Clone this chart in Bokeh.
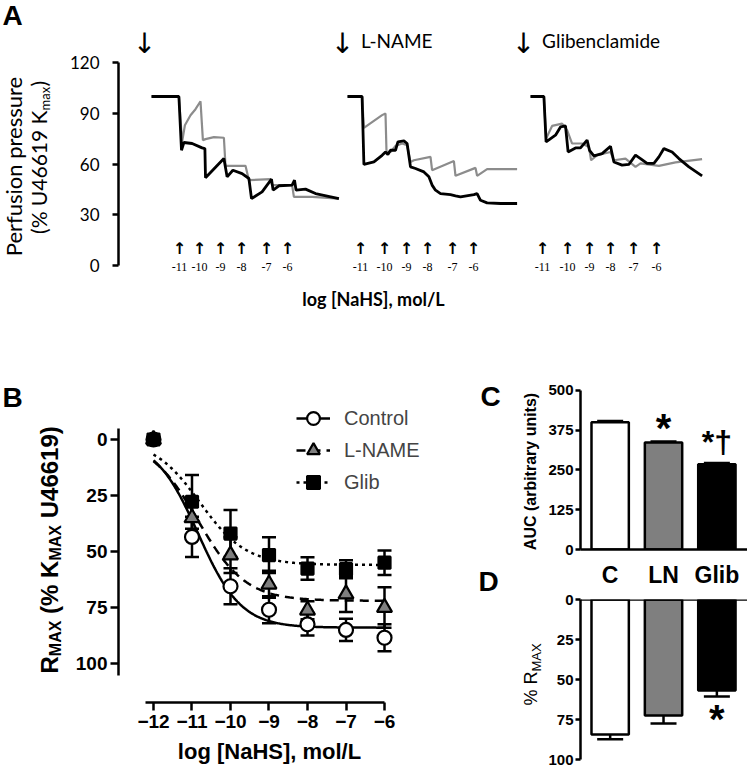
import numpy as np
from bokeh.plotting import figure
from bokeh.models import Range1d, Legend, LegendItem, FixedTicker, Span
from bokeh.layouts import row, column
from bokeh.embed import file_html
from bokeh.resources import INLINE
from bokeh.core.properties import value

# ---------------- Panel A: perfusion-pressure traces (time in min, % U46619 Kmax) ----------------
ctrl_black_t = [0, 13.7, 15, 16.2, 20.3, 25.3, 26.7, 27, 36.2, 37.8, 40.7, 45.3, 48.7, 50, 55.3, 60, 60.8, 63.7, 70.3, 71.5, 72.3, 77, 82, 93.7]
ctrl_black_v = [100, 100, 68.2, 72.8, 72.2, 69.6, 69.2, 51.9, 63.3, 52.5, 56.4, 54.4, 51.5, 39.6, 43.6, 51.1, 44.6, 47.2, 47.6, 50.5, 44.6, 45.2, 42.6, 39.6]
ctrl_gray_t = [0, 13.7, 15.3, 16.7, 19.5, 22, 24.5, 25.7, 27, 31.2, 36.2, 37, 47, 48.7, 59.5, 60.3, 70.3, 71.2, 80.3, 93.7]
ctrl_gray_v = [100, 100, 73.2, 83.0, 88.9, 92.5, 97.2, 74.2, 74.8, 76.0, 75.6, 59.0, 59.0, 50.5, 51.1, 47.6, 47.6, 40.6, 40.6, 39.6]

lname_black_t = [0, 7.3, 8.2, 13.2, 17.3, 19, 20.2, 21.5, 24, 25.2, 28.2, 29.8, 31.5, 34, 38.2, 40.7, 42.3, 44, 46.5, 51.5, 54, 56.5, 63.2, 64.8, 66.5, 69.8, 76.5, 84.8]
lname_black_v = [100, 100, 59.8, 61.3, 65.2, 67.2, 65.7, 68.2, 68.2, 73.2, 73.8, 72.2, 58.4, 57.4, 55.4, 52.5, 47.6, 44.6, 42.6, 42.0, 41.2, 40.6, 42.0, 42.6, 38.6, 37.1, 36.7, 36.7]
lname_gray_t = [0, 7.3, 8.2, 17.3, 19, 19.5, 21.5, 24, 27.3, 29.8, 31.5, 33.2, 41.5, 42.3, 53.2, 54, 64, 64.8, 69.8, 84.8]
lname_gray_v = [100, 100, 81.5, 89.0, 90.0, 67.2, 67.2, 70.8, 72.2, 71.2, 61.3, 62.3, 64.3, 56.4, 61.8, 53.1, 57.8, 53.1, 57.0, 57.0]

glib_black_t = [0, 6.7, 7.8, 12.5, 15, 17.5, 18.8, 22.5, 25, 28.3, 29.5, 31.7, 35.8, 40, 41.7, 45.8, 49.2, 52.5, 55, 58.3, 61.7, 64.2, 66.7, 70.8, 74.2, 79.2, 85.8]
glib_black_v = [100, 100, 73.2, 77.1, 82.0, 82.6, 67.2, 69.6, 69.6, 74.2, 68.2, 64.9, 66.2, 70.6, 61.3, 59.4, 59.8, 65.3, 63.3, 60.4, 60.4, 64.3, 69.2, 67.2, 63.3, 58.4, 53.1]
glib_gray_t = [0, 6.7, 7.8, 10.8, 15.8, 18.3, 20.8, 25.8, 29.2, 30.3, 33.3, 40, 41.7, 47.5, 52.5, 55, 64.2, 72.5, 85.8]
glib_gray_v = [100, 100, 75.2, 82.6, 84.0, 80.1, 72.2, 72.2, 70.2, 62.3, 65.3, 67.2, 62.3, 63.3, 58.4, 60.4, 59.0, 61.0, 63.0]

# NaHS addition times (min, within each protocol) and concentration labels
ctrl_add_t = [14, 24, 34.5, 45, 57.5, 68]
lname_add_t = [6.5, 18.5, 29.5, 40, 52.5, 63]
glib_add_t = [6, 18.5, 29.5, 40, 51.5, 63]
add_labels = ["-11", "-10", "-9", "-8", "-7", "-6"]
pretreat_t = [-3.5, -2.5, -3.5]
pretreat_names = ["", "L-NAME", "Glibenclamide"]
a_yticks = [0, 30, 60, 90, 120]
# horizontal placement of the three protocols on the shared time axis (layout)
protocol_start = [0, 98, 189.5]

# ---------------- Panel B: concentration-response (mean, SEM) ----------------
log_conc = [-12, -11, -10, -9, -8, -7, -6]
ctrl_mean = [0, 43.5, 65.5, 76, 82.5, 85, 88.5]
ctrl_sem = [0, 9, 8, 6, 5, 5, 6]
lname_mean = [0, 35, 51.6, 64.6, 76.2, 69, 75]
lname_sem = [0, 9, 8, 6, 4, 8, 9]
glib_mean = [0, 27.8, 42, 51.6, 57.6, 57.9, 55]
glib_sem = [0, 12, 10.5, 8, 5, 4, 5.5]
# sigmoidal fit parameters: [bottom plateau, logEC50, Hill slope]
ctrl_fit = [84, -10.84, 0.78]
lname_fit = [72, -10.85, 0.70]
glib_fit = [56, -10.80, 0.72]
b_yticks = [0, 25, 50, 75, 100]

# ---------------- Panels C & D ----------------
groups = ["C", "LN", "Glib"]
auc_mean = [400, 336, 268]
auc_sem = [4, 3, 4]
rmax_mean = [84.4, 72.5, 56.9]
rmax_sem = [3.0, 5.0, 3.7]
bar_colors = ["white", "#7f7f7f", "black"]
c_yticks = [0, 125, 250, 375, 500]
d_yticks = [0, 25, 50, 75, 100]

ARIAL = "Liberation Sans"
CAL = "Lato"
UP = np.pi / 2


def base_fig(w, h, xr, yr, ml=0, mr=0, mt=0, mb=0, xloc=None, yloc=None):
    p = figure(width=w, height=h, x_range=xr, y_range=yr, output_backend="svg",
               toolbar_location=None, min_border_left=ml, min_border_right=mr,
               min_border_top=mt, min_border_bottom=mb,
               x_axis_location=xloc, y_axis_location=yloc)
    if "frame_align" in p.properties():
        p.frame_align = False
    for g in p.grid:
        g.visible = False
    p.outline_line_color = None
    p.border_fill_color = "white"
    p.background_fill_color = "white"
    return p


def style_axis(ax, font, size, bold, standoff, tick_out, lw=2.5):
    ax.axis_line_width = lw
    ax.axis_line_color = "black"
    ax.major_tick_line_width = lw
    ax.major_tick_line_color = "black"
    ax.major_tick_out = tick_out
    ax.major_tick_in = 0
    ax.minor_tick_line_color = None
    ax.major_label_text_font = font
    ax.major_label_text_font_size = f"{size}px"
    ax.major_label_text_font_style = "bold" if bold else "normal"
    ax.major_label_text_color = "black"
    ax.major_label_standoff = standoff


def txt(p, x, y, s, font, size, style="normal", align="left", baseline="middle", angle=0.0):
    p.text(x=[x], y=[y], text=[s], text_font=value(font), text_font_size=f"{size}px",
           text_font_style=style, text_align=align, text_baseline=baseline, angle=angle,
           text_color="black")


# ================= Panel A =================
YA = Range1d(-32.5, 156.8)
pA0 = base_fig(58, 320, Range1d(0, 58), Range1d(320, 0))       # title strip (pixel coordinates)
pA = base_fig(689, 320, Range1d(-16.5, 298), YA, ml=60, yloc="left")

style_axis(pA.yaxis[0], CAL, 17, False, 13, 6)
pA.yaxis.bounds = (0, 120)
pA.yaxis.ticker = FixedTicker(ticks=a_yticks)

protocols = [(ctrl_gray_t, ctrl_gray_v, ctrl_black_t, ctrl_black_v, ctrl_add_t),
             (lname_gray_t, lname_gray_v, lname_black_t, lname_black_v, lname_add_t),
             (glib_gray_t, glib_gray_v, glib_black_t, glib_black_v, glib_add_t)]
for i, (gt, gv, bt, bv, at) in enumerate(protocols):
    s0 = protocol_start[i]
    pA.line([s0 + t for t in gt], gv, line_color="#8c8c8c", line_width=2.2)
    pA.line([s0 + t for t in bt], bv, line_color="black", line_width=2.8)
    ax = [s0 + t for t in at]
    n = len(ax)
    pA.text(x=ax, y=[10] * n, text=["↑"] * n, text_font=value("DejaVu Sans"),
            text_font_size="16px", text_font_style="bold", text_align="center",
            text_baseline="middle", text_color="black")
    pA.text(x=ax, y=[-0.6] * n, text=add_labels, text_font=value("Liberation Serif"),
            text_font_size="12px", text_align="center", text_baseline="middle", text_color="black")
    txt(pA, s0 + pretreat_t[i], 131.4, "↓", "DejaVu Sans", 28, align="center")
    if pretreat_names[i]:
        txt(pA, s0 + pretreat_t[i] + 9.3, 133.1, pretreat_names[i], CAL, 19)

txt(pA, 111, -19.5, "log [NaHS], mol/L", CAL, 18, "bold", align="center")

txt(pA0, 2, 15, "A", ARIAL, 28, "bold")
txt(pA0, 13, 166, "Perfusion pressure", CAL, 22, align="center", angle=UP)
txt(pA0, 38, 110, "(% U46619 K", CAL, 21, align="right", angle=UP)
txt(pA0, 44, 110, "max", CAL, 13, angle=UP)
txt(pA0, 38, 86, ")", CAL, 21, angle=UP)

# ================= Panel B =================
pB0 = base_fig(70, 451, Range1d(0, 70), Range1d(771, 320))      # title strip (pixel coordinates)
pB = base_fig(408, 451, Range1d(-12.909, -5.065), Range1d(117.4, -17.4),
              ml=48, mr=58, mt=80, mb=69, xloc="below", yloc="left")
style_axis(pB.xaxis[0], ARIAL, 19, True, 4, 8)
style_axis(pB.yaxis[0], ARIAL, 19, True, 3, 8)
pB.xaxis.bounds = (-12.2, -6)
pB.xaxis.ticker = FixedTicker(ticks=log_conc)
pB.yaxis.bounds = (-4.9, 105.4)
pB.yaxis.ticker = FixedTicker(ticks=b_yticks)
pB.xaxis.axis_label = "log [NaHS], mol/L"
pB.xaxis.axis_label_text_font = ARIAL
pB.xaxis.axis_label_text_font_size = "22px"
pB.xaxis.axis_label_text_font_style = "bold"
pB.xaxis.axis_label_text_color = "black"
pB.xaxis.axis_label_standoff = 8

xs = np.linspace(-12, -6, 241)
series = [("Control", ctrl_mean, ctrl_sem, ctrl_fit, "solid", "circle", "white", 14),
          ("L-NAME", lname_mean, lname_sem, lname_fit, "9 6", "triangle", "#7f7f7f", 15),
          ("Glib", glib_mean, glib_sem, glib_fit, "3 4", "square", "black", 12)]
curve_r = []
for name, m, s, fit, dash, mk, fc, sz in series:
    bottom, ec, hill = fit
    ys = bottom / (1 + 10 ** ((ec - xs) * hill))
    curve_r.append(pB.line(xs, ys, line_color="black", line_width=2.5, line_dash=dash))
for name, m, s, fit, dash, mk, fc, sz in series:
    lo = [a - b for a, b in zip(m, s)]
    hi = [a + b for a, b in zip(m, s)]
    pB.segment(x0=log_conc, y0=lo, x1=log_conc, y1=hi, line_color="black", line_width=2.5)
    pB.scatter(x=log_conc + log_conc, y=lo + hi, marker="dash", size=14, line_color="black", line_width=2.5)
mark_r = []
for name, m, s, fit, dash, mk, fc, sz in series:
    mark_r.append(pB.scatter(x=log_conc, y=m, marker=mk, size=sz, fill_color=fc,
                             line_color="black", line_width=2.2))

legend = Legend(items=[LegendItem(label=series[i][0], renderers=[curve_r[i], mark_r[i]]) for i in range(3)],
                location=(178, 204), border_line_color=None, background_fill_alpha=0,
                label_text_font=ARIAL, label_text_font_size="20px", glyph_width=34,
                glyph_height=32, label_height=32, spacing=0, padding=0, margin=0, label_standoff=14)
pB.add_layout(legend)

txt(pB0, 2, 397, "B", ARIAL, 28, "bold")
# y title: R_MAX (% K_MAX U46619), written bottom-to-top
txt(pB0, 48.7, 673, "R", ARIAL, 24, "bold", angle=UP)
txt(pB0, 54.5, 655.7, "MAX", ARIAL, 16, "bold", angle=UP)
txt(pB0, 48.7, 613.4, "(% K", ARIAL, 24, "bold", angle=UP)
txt(pB0, 54.5, 560.1, "MAX", ARIAL, 16, "bold", angle=UP)
txt(pB0, 48.7, 517.8, "U46619)", ARIAL, 24, "bold", angle=UP)

# ================= Panels C and D =================
pCD0 = base_fig(67, 451, Range1d(478, 545), Range1d(771, 320))   # title strip (pixel coordinates)
txt(pCD0, 480, 396, "C", ARIAL, 28, "bold")
txt(pCD0, 478, 581, "D", ARIAL, 28, "bold")
txt(pCD0, 530, 471, "AUC (arbitrary units)", ARIAL, 16, "bold", align="center", angle=UP)
txt(pCD0, 530.8, 705, "% R", ARIAL, 18, angle=UP)
txt(pCD0, 535.5, 671, "MAX", ARIAL, 13, angle=UP)

idx = list(range(len(groups)))
pC = base_fig(202, 270, Range1d(-0.556, 2.574), Range1d(0, 530.9),
              ml=33, mt=60, mb=38, xloc="below", yloc="left")
style_axis(pC.xaxis[0], ARIAL, 23, True, 12, 0)
pC.xaxis.ticker = FixedTicker(ticks=idx)
pC.xaxis.major_label_overrides = {i: g for i, g in zip(idx, groups)}
style_axis(pC.yaxis[0], ARIAL, 15, True, 2, 5)
pC.yaxis.bounds = (0, 500)
pC.yaxis.ticker = FixedTicker(ticks=c_yticks)
auc_hi = [a + b for a, b in zip(auc_mean, auc_sem)]
pC.segment(x0=idx, y0=auc_mean, x1=idx, y1=auc_hi, line_color="black", line_width=2.5)
pC.scatter(x=idx, y=auc_hi, marker="dash", size=26, line_color="black", line_width=2.5)
pC.vbar(x=idx, top=auc_mean, bottom=0, width=0.7, fill_color=bar_colors, line_color="black", line_width=2.5)
txt(pC, 1, auc_hi[1] + 44, "*", ARIAL, 40, "bold", align="center")
txt(pC, 2, auc_hi[2] + 66, "*†", ARIAL, 32, "bold", align="center")

pD = base_fig(202, 181, Range1d(-0.556, 2.574), Range1d(102.5, 0),
              ml=33, mt=9, mb=8, xloc=None, yloc="left")
style_axis(pD.yaxis[0], ARIAL, 15, True, 2, 5)
pD.yaxis.bounds = (0, 100)
pD.yaxis.ticker = FixedTicker(ticks=d_yticks)
rmax_hi = [a + b for a, b in zip(rmax_mean, rmax_sem)]
pD.segment(x0=idx, y0=rmax_mean, x1=idx, y1=rmax_hi, line_color="black", line_width=2.5)
pD.scatter(x=idx, y=rmax_hi, marker="dash", size=26, line_color="black", line_width=2.5)
pD.vbar(x=idx, top=rmax_mean, bottom=0, width=0.7, fill_color=bar_colors, line_color="black", line_width=2.5)
pD.add_layout(Span(location=0, dimension="width", line_color="black", line_width=2.5))
txt(pD, 2, rmax_hi[2] + 14, "*", ARIAL, 40, "bold", align="center")

layout = column(row(pA0, pA), row(pB0, pB, pCD0, column(pC, pD)))
open("out.html", "w").write(file_html(layout, INLINE))
